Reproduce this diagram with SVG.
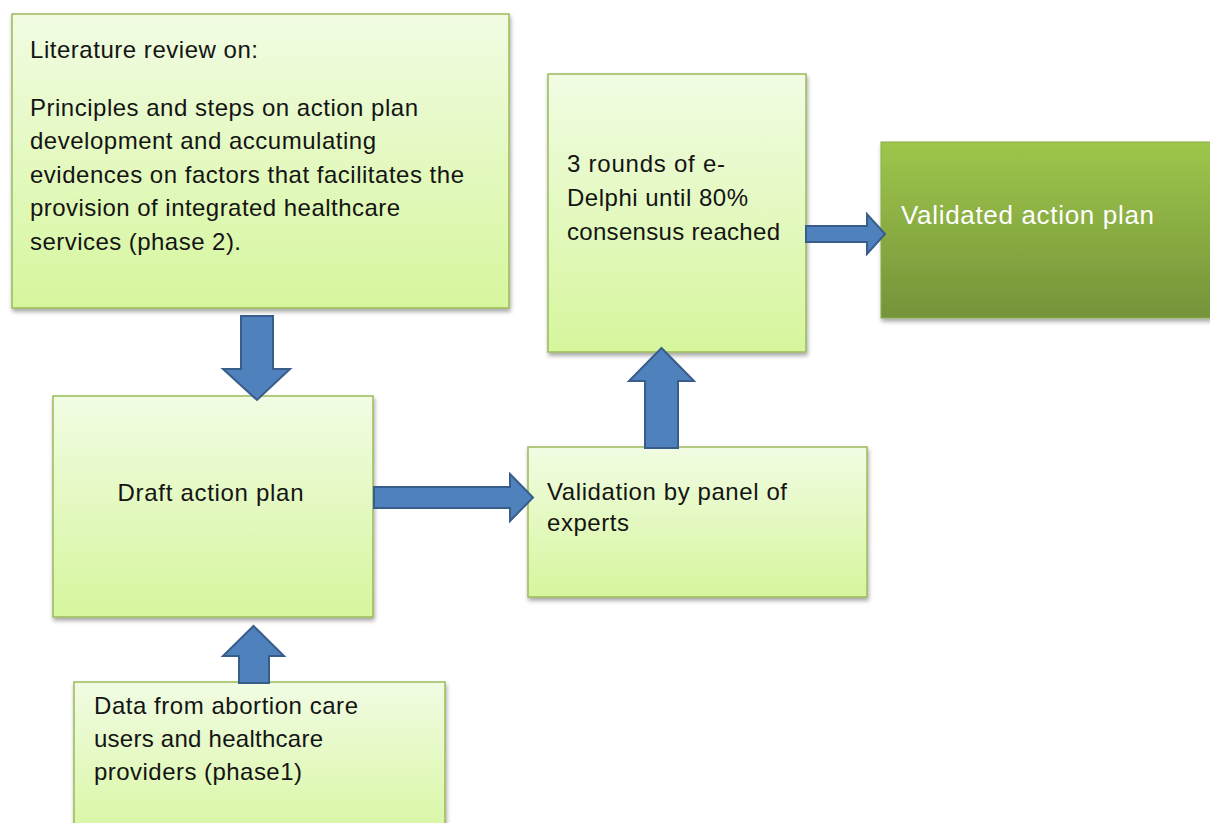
<svg xmlns="http://www.w3.org/2000/svg" width="1210" height="823" viewBox="0 0 1210 823">
  <defs>
    <linearGradient id="lightGreen" x1="0" y1="0" x2="0" y2="1">
      <stop offset="0" stop-color="#f1fce3"/>
      <stop offset="1" stop-color="#d6f69d"/>
    </linearGradient>
    <linearGradient id="darkGreen" x1="0" y1="0" x2="0" y2="1">
      <stop offset="0" stop-color="#9ec64b"/>
      <stop offset="1" stop-color="#75933a"/>
    </linearGradient>
    <filter id="shadow" x="-10%" y="-10%" width="120%" height="125%">
      <feDropShadow dx="1" dy="3" stdDeviation="2" flood-color="#000" flood-opacity="0.35"/>
    </filter>
  </defs>
  <style>
    .box { fill: url(#lightGreen); stroke: #9bbb59; stroke-width: 1.5; filter: url(#shadow); }
    .boxDark { fill: url(#darkGreen); stroke: #8aad48; stroke-width: 1; filter: url(#shadow); }
    .label { font-family: "Liberation Sans", Arial, sans-serif; font-size: 24px; fill: #141414; }
    .labelLight { font-family: "Liberation Sans", Arial, sans-serif; font-size: 26px; fill: #ffffff; }
    .arrow { fill: #4f81bd; stroke: #385d8a; stroke-width: 2; stroke-linejoin: miter; }
  </style>

  <rect width="1210" height="823" fill="#ffffff"/>

  <!-- Literature review box -->
  <g id="literature-review">
    <rect class="box" x="12" y="14" width="497" height="294"/>
    <text class="label" x="30" y="58" textLength="228" lengthAdjust="spacing">Literature review on:</text>
    <text class="label" x="30" y="116" textLength="388" lengthAdjust="spacing">Principles and steps on action plan</text>
    <text class="label" x="30" y="149" textLength="346" lengthAdjust="spacing">development and accumulating</text>
    <text class="label" x="30" y="183" textLength="434" lengthAdjust="spacing">evidences on factors that facilitates the</text>
    <text class="label" x="30" y="216" textLength="370" lengthAdjust="spacing">provision of integrated healthcare</text>
    <text class="label" x="30" y="250" textLength="211" lengthAdjust="spacing">services (phase 2).</text>
  </g>

  <!-- e-Delphi rounds box -->
  <g id="e-delphi">
    <rect class="box" x="548" y="74" width="258" height="278"/>
    <text class="label" x="567" y="172" textLength="158" lengthAdjust="spacing">3 rounds of e-</text>
    <text class="label" x="567" y="206" textLength="181" lengthAdjust="spacing">Delphi until 80%</text>
    <text class="label" x="567" y="240" textLength="213" lengthAdjust="spacing">consensus reached</text>
  </g>

  <!-- Final outcome box -->
  <g id="validated-plan">
    <rect class="boxDark" x="881" y="142" width="340" height="176"/>
    <text class="labelLight" x="901" y="224" textLength="253" lengthAdjust="spacing">Validated action plan</text>
  </g>

  <!-- Draft action plan box -->
  <g id="draft-plan">
    <rect class="box" x="53" y="396" width="320" height="221"/>
    <text class="label" x="117.5" y="501" textLength="186" lengthAdjust="spacing">Draft action plan</text>
  </g>

  <!-- Expert panel validation box -->
  <g id="expert-validation">
    <rect class="box" x="528" y="447" width="339" height="150"/>
    <text class="label" x="547" y="500" textLength="240" lengthAdjust="spacing">Validation by panel of</text>
    <text class="label" x="547" y="531" textLength="82" lengthAdjust="spacing">experts</text>
  </g>

  <!-- Phase 1 data box (runs past the lower edge) -->
  <g id="phase1-data">
    <rect class="box" x="74" y="682" width="371" height="170"/>
    <text class="label" x="94" y="714" textLength="264" lengthAdjust="spacing">Data from abortion care</text>
    <text class="label" x="94" y="747" textLength="229" lengthAdjust="spacing">users and healthcare</text>
    <text class="label" x="94" y="780" textLength="208" lengthAdjust="spacing">providers (phase1)</text>
  </g>

  <!-- Block arrows between the steps -->
  <g id="connectors">
    <path class="arrow" d="M241,316 H273 V369 H290 L257,400 L223,369 H241 Z"/>
    <path class="arrow" d="M374,487 H510 V474 L533,497.5 L510,521 V508 H374 Z"/>
    <path class="arrow" d="M645,448 V381 H629 L661.5,348 L694,381 H678 V448 Z"/>
    <path class="arrow" d="M806,226 H867 V214 L885,234 L867,254 V242 H806 Z"/>
    <path class="arrow" d="M239,683 V656 H223 L253.5,626 L284,656 H269 V683 Z"/>
  </g>
</svg>
